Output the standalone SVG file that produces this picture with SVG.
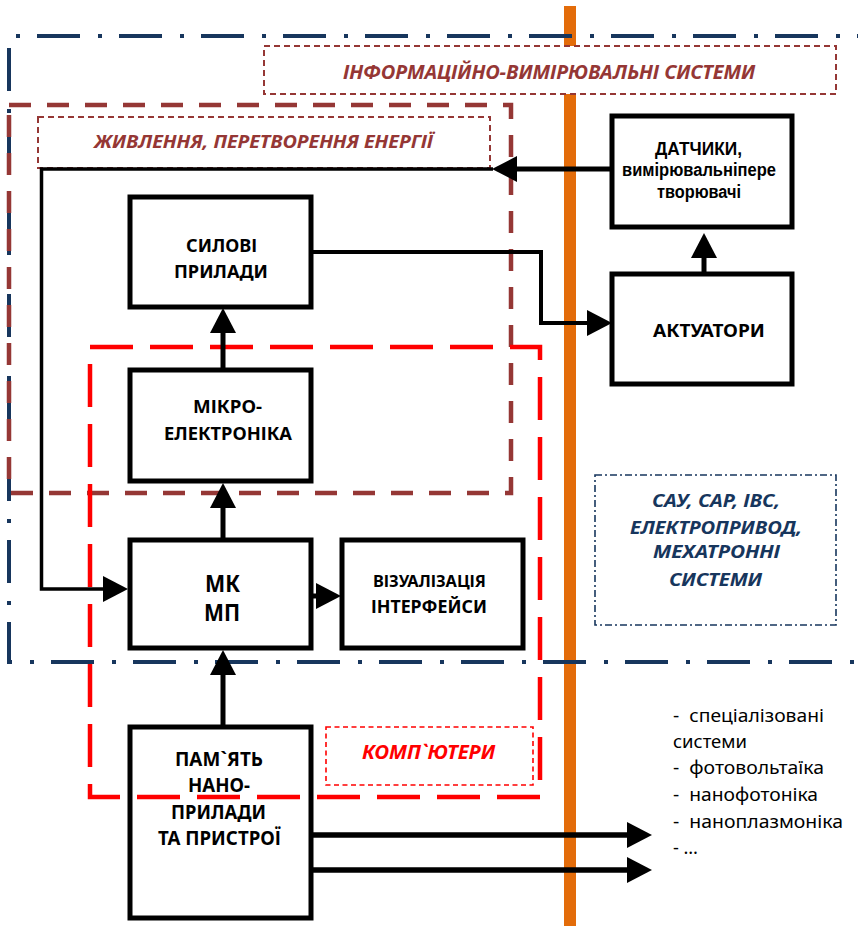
<svg xmlns="http://www.w3.org/2000/svg" width="858" height="926" viewBox="0 0 858 926">
<style>
.box{fill:none;stroke:#000;stroke-width:5}
.lbl{font-family:"Noto Sans","DejaVu Sans",sans-serif;font-weight:700;fill:#000}
.lbl2{font-family:"Liberation Sans","Noto Sans",sans-serif;font-weight:700;fill:#000}
.it{font-family:"Noto Sans","DejaVu Sans",sans-serif;font-weight:700;font-style:italic}
.lst{font-family:"Noto Sans","DejaVu Sans",sans-serif;font-size:18px;fill:#000}
.con{fill:none;stroke:#000;stroke-linejoin:miter}
</style>
<defs>
<marker id="ah" viewBox="0 0 25 26" refX="0" refY="13" markerWidth="25" markerHeight="26" markerUnits="userSpaceOnUse" orient="auto">
<path d="M0,0 L25,13 L0,26 z" fill="#000"/>
</marker>
</defs>
<rect width="858" height="926" fill="#fff"/>

<g id="divider">
<line x1="570" y1="6" x2="570" y2="926" stroke="#E36C0A" stroke-width="12"/>
</g>

<g id="containers">
<path d="M9,36 H870" fill="none" stroke="#17365D" stroke-width="4" stroke-dasharray="43 18 4 17" stroke-dashoffset="54"/>
<path d="M9,36 V662 H870" fill="none" stroke="#17365D" stroke-width="4" stroke-dasharray="43 18 4 17" stroke-dashoffset="70"/>
<rect x="9" y="105" width="502" height="388" fill="none" stroke="#953735" stroke-width="4.5" stroke-dasharray="22 16"/>
<rect x="90" y="347" width="450" height="450" fill="none" stroke="#FF0000" stroke-width="4.5" stroke-dasharray="43 17"/>
</g>

<g id="info-label">
<rect x="264" y="46" width="572" height="48" fill="#fff" stroke="#953735" stroke-width="2" stroke-dasharray="6 4"/>
<text class="it" x="343" y="79" font-size="19.5" fill="#953735" textLength="412" lengthAdjust="spacingAndGlyphs">ІНФОРМАЦІЙНО-ВИМІРЮВАЛЬНІ СИСТЕМИ</text>
</g>

<g id="power-label">
<rect x="38" y="117" width="452" height="51" fill="#fff" stroke="#953735" stroke-width="2" stroke-dasharray="6 4"/>
<text class="it" x="94" y="148" font-size="18.6" fill="#953735" textLength="339" lengthAdjust="spacingAndGlyphs">ЖИВЛЕННЯ, ПЕРЕТВОРЕННЯ ЕНЕРГІЇ</text>
</g>

<g id="computers-label">
<rect x="326" y="727" width="207" height="58" fill="none" stroke="#FF0000" stroke-width="1.6" stroke-dasharray="5 3.5"/>
<text class="it" x="362" y="759" font-size="20" fill="#FF0000" textLength="133" lengthAdjust="spacingAndGlyphs">КОМП`ЮТЕРИ</text>
</g>

<g id="sau-label">
<rect x="595" y="475" width="241" height="150" fill="none" stroke="#17365D" stroke-width="1.6" stroke-dasharray="7 3 2 3"/>
<text class="it" x="652" y="507" font-size="18.6" fill="#17365D" textLength="128" lengthAdjust="spacingAndGlyphs">САУ, САР, ІВС,</text>
<text class="it" x="630" y="534" font-size="18.6" fill="#17365D" textLength="172" lengthAdjust="spacingAndGlyphs">ЕЛЕКТРОПРИВОД,</text>
<text class="it" x="653" y="558" font-size="18.6" fill="#17365D" textLength="127" lengthAdjust="spacingAndGlyphs">МЕХАТРОННІ</text>
<text class="it" x="669" y="586" font-size="18.6" fill="#17365D" textLength="93" lengthAdjust="spacingAndGlyphs">СИСТЕМИ</text>
</g>

<g id="silovi">
<rect class="box" x="130" y="197" width="181" height="110"/>
<text class="lbl" x="186" y="252" font-size="18.5" textLength="71" lengthAdjust="spacingAndGlyphs">СИЛОВІ</text>
<text class="lbl" x="174" y="278" font-size="18.5" textLength="94" lengthAdjust="spacingAndGlyphs">ПРИЛАДИ</text>
</g>

<g id="mikro">
<rect class="box" x="130" y="370" width="181" height="111"/>
<text class="lbl" x="193" y="413" font-size="18.5" textLength="69" lengthAdjust="spacingAndGlyphs">МІКРО-</text>
<text class="lbl" x="164" y="440" font-size="18.5" textLength="128" lengthAdjust="spacingAndGlyphs">ЕЛЕКТРОНІКА</text>
</g>

<g id="mk">
<rect class="box" x="130" y="540" width="181" height="108"/>
<text class="lbl" x="205" y="592" font-size="23" textLength="35" lengthAdjust="spacingAndGlyphs">МК</text>
<text class="lbl" x="204" y="621" font-size="23" textLength="36" lengthAdjust="spacingAndGlyphs">МП</text>
</g>

<g id="vizual">
<rect class="box" x="342" y="540" width="181" height="108"/>
<text class="lbl" x="373" y="587" font-size="16" textLength="113" lengthAdjust="spacingAndGlyphs">ВІЗУАЛІЗАЦІЯ</text>
<text class="lbl" x="371" y="613" font-size="18.5" textLength="116" lengthAdjust="spacingAndGlyphs">ІНТЕРФЕЙСИ</text>
</g>

<g id="pamyat">
<rect class="box" x="130" y="727" width="181" height="191"/>
<text class="lbl" x="175" y="766" font-size="20" textLength="88" lengthAdjust="spacingAndGlyphs">ПАМ`ЯТЬ</text>
<text class="lbl" x="188" y="792" font-size="20" textLength="62" lengthAdjust="spacingAndGlyphs">НАНО-</text>
<text class="lbl" x="171" y="819" font-size="20" textLength="95" lengthAdjust="spacingAndGlyphs">ПРИЛАДИ</text>
<text class="lbl" x="158" y="845" font-size="20" textLength="123" lengthAdjust="spacingAndGlyphs">ТА ПРИСТРОЇ</text>
</g>

<g id="datchyky">
<rect class="box" x="612" y="116" width="180" height="111"/>
<text class="lbl2" x="655" y="155" font-size="18.5" textLength="87" lengthAdjust="spacingAndGlyphs">ДАТЧИКИ,</text>
<text class="lbl2" x="622" y="176" font-size="18" textLength="154" lengthAdjust="spacingAndGlyphs">вимірювальніпере</text>
<text class="lbl2" x="657" y="198" font-size="18" textLength="84" lengthAdjust="spacingAndGlyphs">творювачі</text>
</g>

<g id="aktuatory">
<rect class="box" x="612" y="274" width="180" height="110"/>
<text class="lbl" x="653" y="337" font-size="18.5" textLength="112" lengthAdjust="spacingAndGlyphs">АКТУАТОРИ</text>
</g>

<g id="outputs-list">
<text class="lst" xml:space="preserve" x="673" y="722" textLength="151" lengthAdjust="spacingAndGlyphs">-  спеціалізовані</text>
<text class="lst" x="673" y="748" textLength="74" lengthAdjust="spacingAndGlyphs">системи</text>
<text class="lst" xml:space="preserve" x="673" y="774" textLength="151" lengthAdjust="spacingAndGlyphs">-  фотовольтаїка</text>
<text class="lst" xml:space="preserve" x="673" y="801" textLength="145" lengthAdjust="spacingAndGlyphs">-  нанофотоніка</text>
<text class="lst" xml:space="preserve" x="673" y="828" textLength="170" lengthAdjust="spacingAndGlyphs">-  наноплазмоніка</text>
<text class="lst" x="673" y="854" textLength="25" lengthAdjust="spacingAndGlyphs">- …</text>
</g>

<g id="connectors">
<path class="con" d="M612,169 H517" stroke-width="5" marker-end="url(#ah)"/>
<path class="con" d="M493,169 H41.5 V589 H103" stroke-width="3.5" marker-end="url(#ah)"/>
<path class="con" d="M311,252 H541 V323 H587" stroke-width="4" marker-end="url(#ah)"/>
<path class="con" d="M704,274 V258" stroke-width="5" marker-end="url(#ah)"/>
<path class="con" d="M223,370 V333" stroke-width="5" marker-end="url(#ah)"/>
<path class="con" d="M223,540 V508" stroke-width="5" marker-end="url(#ah)"/>
<path class="con" d="M223,727 V675" stroke-width="5" marker-end="url(#ah)"/>
<path class="con" d="M311,596 H316" stroke-width="5" marker-end="url(#ah)"/>
<path class="con" d="M311,835 H627" stroke-width="5.5" marker-end="url(#ah)"/>
<path class="con" d="M311,870 H627" stroke-width="5.5" marker-end="url(#ah)"/>
</g>
</svg>
